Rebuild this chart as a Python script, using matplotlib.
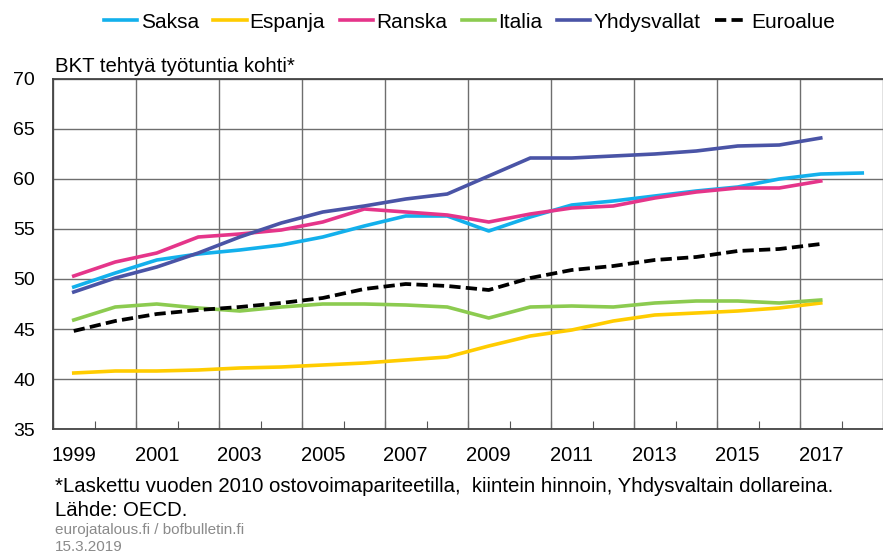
import numpy as np
import matplotlib
matplotlib.use("Agg")
import matplotlib.pyplot as plt

plt.rcParams['font.family'] = ['Liberation Sans', 'DejaVu Sans']

# data (GDP per hour worked)
years = list(range(1999, 2019))
saksa = [49.2, 50.6, 51.9, 52.5, 52.9, 53.4, 54.2, 55.3, 56.3, 56.3, 54.8, 56.2, 57.4, 57.8, 58.3, 58.8, 59.2, 60.0, 60.5, 60.6]
espanja = [40.6, 40.8, 40.8, 40.9, 41.1, 41.2, 41.4, 41.6, 41.9, 42.2, 43.3, 44.3, 44.9, 45.8, 46.4, 46.6, 46.8, 47.1, 47.6]
ranska = [50.3, 51.7, 52.6, 54.2, 54.5, 54.9, 55.7, 57.0, 56.7, 56.4, 55.7, 56.5, 57.1, 57.3, 58.1, 58.7, 59.1, 59.1, 59.8]
italia = [45.9, 47.2, 47.5, 47.1, 46.8, 47.2, 47.5, 47.5, 47.4, 47.2, 46.1, 47.2, 47.3, 47.2, 47.6, 47.8, 47.8, 47.6, 47.9]
usa = [48.7, 50.1, 51.2, 52.6, 54.2, 55.6, 56.7, 57.3, 58.0, 58.5, 60.3, 62.1, 62.1, 62.3, 62.5, 62.8, 63.3, 63.4, 64.1]
euro = [44.8, 45.8, 46.5, 46.9, 47.2, 47.6, 48.1, 49.0, 49.5, 49.3, 48.9, 50.1, 50.9, 51.3, 51.9, 52.2, 52.8, 53.0, 53.5]

series = [
    ("Saksa", saksa, "#13B0EC", "-"),
    ("Espanja", espanja, "#FFCC00", "-"),
    ("Ranska", ranska, "#E5358A", "-"),
    ("Italia", italia, "#8CCB50", "-"),
    ("Yhdysvallat", usa, "#4A54A6", "-"),
    ("Euroalue", euro, "#000000", "--"),
]

fig = plt.figure(figsize=(8.83, 5.53), dpi=100)
ax = fig.add_axes([53/883, 1-429/553, 1-53/883, 350/553])

for name, vals, col, ls in series:
    x = np.arange(len(vals))
    if ls == "--":
        ax.plot(x, vals, color=col, lw=2.7, ls=(0, (3, 1.4)), label=name, zorder=3)
    else:
        ax.plot(x, vals, color=col, lw=2.6, label=name, zorder=3)

ax.set_ylim(35, 70)
ax.set_xlim(-0.5, -0.5 + (883-53)/42.0)
ax.set_yticks(np.arange(35, 71, 5))
ax.yaxis.grid(True, color="#6e6e6e", lw=1)
ax.tick_params(axis='y', length=0, labelsize=14, pad=13)

# year bins: gridlines every other bin edge, small ticks on all edges
edges = np.arange(-0.5, len(years), 1.0)
ax.set_xticks(edges)
ax.set_xticklabels([])
ax.tick_params(axis='x', which='major', direction='in', length=6, color="#555555")
ax.set_xticks(np.arange(0, len(years), 2), minor=True)
ax.set_xticklabels([str(y) for y in years[::2]], minor=True)
ax.tick_params(axis='x', which='minor', length=0, labelsize=14.5, pad=12)
ax.vlines(edges[::2], 35, 70, color="#6e6e6e", lw=1, zorder=1)
ax.set_axisbelow(True)

for s in ['left', 'bottom', 'top']:
    ax.spines[s].set_color("#444444")
    ax.spines[s].set_linewidth(1.3)
ax.spines['right'].set_visible(False)

fig.text(55/883, 1-67/553, "BKT tehtyä työtuntia kohti*", fontsize=14.7, va='center')

fig.legend(loc='center', bbox_to_anchor=(0.532, 1-22/553), ncol=6, frameon=False,
           fontsize=15, handlelength=1.6, handletextpad=0.15, columnspacing=0.7)

fig.text(55/883, 1-486/553, "*Laskettu vuoden 2010 ostovoimapariteetilla,  kiintein hinnoin, Yhdysvaltain dollareina.",
         fontsize=14.65, va='center')
fig.text(55/883, 1-510/553, "Lähde: OECD.", fontsize=14.65, va='center')
fig.text(55/883, 1-530/553, "eurojatalous.fi / bofbulletin.fi", fontsize=11, va='center', color="#8a8a8a")
fig.text(55/883, 1-547/553, "15.3.2019", fontsize=11, va='center', color="#8a8a8a")

fig.savefig("out.png", dpi=100)
